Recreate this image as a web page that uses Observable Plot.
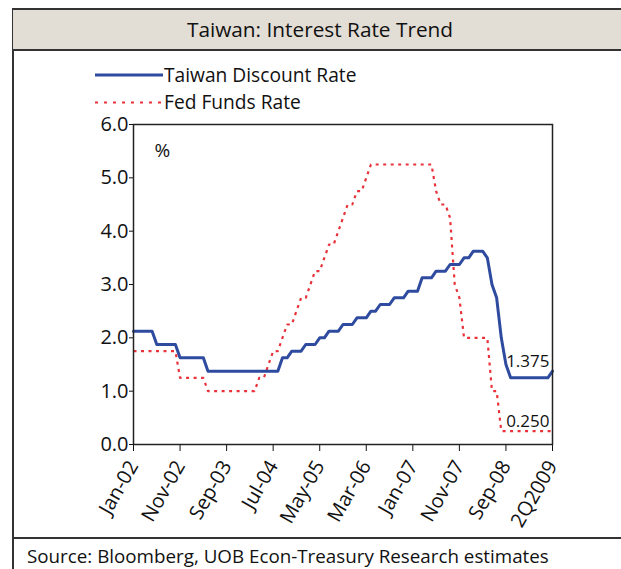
<!DOCTYPE html>
<html><head><meta charset="utf-8">
<script src="https://cdn.jsdelivr.net/npm/d3@7"></script>
<script src="https://cdn.jsdelivr.net/npm/@observablehq/plot@0.6"></script>
<style>
html,body{margin:0;padding:0;background:#fff;}
#wrap{position:relative;width:621px;height:569px;overflow:hidden;font-family:"Open Sans",sans-serif;color:#111;}
.abs{position:absolute;}
#leftline{left:12px;top:8px;width:2px;height:600px;background:#333;}
#titleband{left:13px;top:8px;width:614px;height:43px;background:#e2ddd5;border-top:2px solid #333;border-bottom:2px solid #333;box-sizing:border-box;text-align:center;font-size:20.8px;line-height:39px;}
#bottomline{left:13px;top:537px;width:620px;height:2px;background:#333;}
#source{left:27px;top:543px;font-size:18.8px;white-space:nowrap;}
.leg{font-size:19.2px;white-space:nowrap;}
#chart{left:0;top:0;}
</style></head>
<body>
<div id="wrap">
  <div id="chart" class="abs"></div>
  <div id="leftline" class="abs"></div>
  <div id="titleband" class="abs">Taiwan: Interest Rate Trend</div>
  <svg class="abs" style="left:95px;top:65px" width="70" height="50">
    <line x1="0" x2="68" y1="10" y2="10" stroke="#2f4b9f" stroke-width="3"/>
    <line x1="0" x2="68" y1="37.5" y2="37.5" stroke="#e8323a" stroke-width="2" stroke-dasharray="3,6"/>
  </svg>
  <div id="leg1" class="abs leg" style="left:164px;top:61px">Taiwan Discount Rate</div>
  <div id="leg2" class="abs leg" style="left:164px;top:88px">Fed Funds Rate</div>
  <div id="bottomline" class="abs"></div>
  <div id="source" class="abs">Source: Bloomberg, UOB Econ-Treasury Research estimates</div>
</div>
<script>
// Category labels shown on the x axis (every 10th monthly observation, Jan-02 .. 2Q2009)
const tickLabels = ["Jan-02","Nov-02","Sep-03","Jul-04","May-05","Mar-06","Jan-07","Nov-07","Sep-08","2Q2009"];
const tickIndex = [0,10,20,30,40,50,60,70,80,90];

// Taiwan Discount Rate (%), monthly from Jan-02
const taiwanRate = [
  2.125,2.125,2.125,2.125,2.125,
  1.875,1.875,1.875,1.875,1.875,
  1.625,1.625,1.625,1.625,1.625,1.625,
  1.375,1.375,1.375,1.375,1.375,1.375,1.375,1.375,1.375,1.375,1.375,1.375,1.375,1.375,1.375,1.375,
  1.625,1.625,
  1.75,1.75,1.75,
  1.875,1.875,1.875,
  2.0,2.0,
  2.125,2.125,2.125,
  2.25,2.25,2.25,
  2.375,2.375,2.375,
  2.5,2.5,
  2.625,2.625,2.625,
  2.75,2.75,2.75,
  2.875,2.875,2.875,
  3.125,3.125,3.125,
  3.25,3.25,3.25,
  3.375,3.375,3.375,
  3.5,3.5,
  3.625,3.625,3.625,
  3.5,3.0,2.75,2.0,1.5,
  1.25,1.25,1.25,1.25,1.25,1.25,1.25,1.25,1.25,
  1.375
];

// Fed Funds Rate (%), monthly from Jan-02
const fedRate = [
  1.75,1.75,1.75,1.75,1.75,1.75,1.75,1.75,1.75,1.75,
  1.25,1.25,1.25,1.25,1.25,1.25,
  1.0,1.0,1.0,1.0,1.0,1.0,1.0,1.0,1.0,1.0,1.0,
  1.25,1.25,1.5,1.75,1.75,2.0,2.25,2.25,2.5,2.75,2.75,3.0,3.25,3.25,3.5,3.75,3.75,4.0,4.25,4.5,4.5,4.75,4.75,5.0,
  5.25,5.25,5.25,5.25,5.25,5.25,5.25,5.25,5.25,5.25,5.25,5.25,5.25,5.25,
  4.75,4.5,4.5,4.25,3.0,2.75,
  2.0,2.0,2.0,2.0,2.0,2.0,
  1.0,1.0,
  0.25,0.25,0.25,0.25,0.25,0.25,0.25,0.25,0.25,0.25,0.25,0.25
];

const endLabels = [
  {series: "taiwan", text: "1.375"},
  {series: "fed", text: "0.250"}
];

const taiwanData = taiwanRate.map((v, i) => ({i, v}));
const fedData = fedRate.map((v, i) => ({i, v}));
const last = taiwanRate.length - 1;
const labelData = endLabels.map(d => ({
  i: last,
  v: d.series === "taiwan" ? taiwanRate[last] : fedRate[last],
  text: d.text
}));

const chart = Plot.plot({
  width: 621,
  height: 540,
  marginLeft: 133,
  marginRight: 69,
  marginTop: 124,
  marginBottom: 96,
  style: {fontFamily: "'Open Sans', sans-serif", fontSize: "20px", color: "#111", background: "transparent", overflow: "visible"},
  x: {type: "linear", domain: [0, last], ticks: tickIndex, tickFormat: i => tickLabels[tickIndex.indexOf(i)], tickRotate: -60, tickSize: 7, tickPadding: 11, label: null},
  y: {domain: [0, 6], ticks: [0,1,2,3,4,5,6], tickFormat: d3.format(".1f"), tickSize: 4, tickPadding: 1, label: null},
  marks: [
    Plot.line(fedData, {x: "i", y: "v", stroke: "#e8323a", strokeWidth: 2.2, strokeDasharray: "3,4.5", strokeLinecap: "butt"}),
    Plot.line(taiwanData, {x: "i", y: "v", stroke: "#2f4b9f", strokeWidth: 3, strokeLinejoin: "round"}),
    Plot.text(labelData, {x: "i", y: "v", text: "text", textAnchor: "end", lineAnchor: "bottom", dx: -3, dy: -4, fontSize: 17, fill: "#111"}),
    Plot.text(["%"], {frameAnchor: "top-left", dx: 21, dy: 19, textAnchor: "start", fontSize: 19, fill: "#111"}),
    Plot.frame({stroke: "#222", strokeWidth: 1.5})
  ]
});
document.getElementById("chart").appendChild(chart);
</script>
</body></html>
